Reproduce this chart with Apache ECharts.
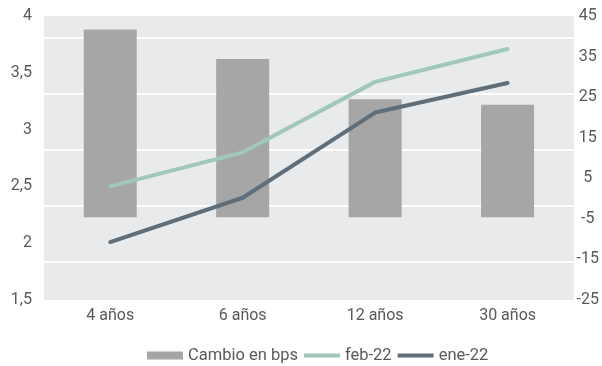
<!DOCTYPE html>
<html>
<head>
<meta charset="utf-8">
<script src="https://cdn.jsdelivr.net/npm/echarts@6/dist/echarts.min.js"></script>
<style>
  html, body { margin: 0; padding: 0; background: #fff; }
  #main { width: 602px; height: 366px; }
</style>
</head>
<body>
<div id="main"></div>
<script>
// datos
var categories = ["4 años", "6 años", "12 años", "30 años"];
var cambioBps = [46.3, 39.0, 29.1, 27.7];
var feb22 = [2.50, 2.80, 3.42, 3.71];
var ene22 = [2.01, 2.40, 3.15, 3.41];

// ejes
var leftMin = 1.5, leftMax = 4, leftStep = 0.5;
var rightMin = -25, rightMax = 45, rightStep = 10;

var myChart = echarts.init(document.getElementById("main"));
var txt = "#595959";
var font = "Roboto";
// icono de línea gruesa para la leyenda (4px dentro de una caja de 36x8)
var lineIcon = "path://M0,0L0.001,0ZM0,2H36V6H0ZM0,8L0.001,8Z";

var option = {
  animation: false,
  textStyle: { fontFamily: font },
  grid: {
    left: 44,
    right: 28,
    top: 16,
    bottom: 66,
    show: true,
    backgroundColor: "#E9EAEC",
    borderWidth: 0,
  },
  legend: {
    left: 142,
    top: 342,
    itemWidth: 36,
    itemHeight: 8,
    itemGap: 6,
    textStyle: { color: txt, fontSize: 16.5, fontFamily: font },
    data: [
      { name: "Cambio en bps", icon: "rect" },
      { name: "feb-22", icon: lineIcon },
      { name: "ene-22", icon: lineIcon },
    ],
  },
  xAxis: {
    type: "category",
    data: categories,
    axisLine: { show: false },
    axisTick: { show: false },
    axisLabel: { color: txt, fontSize: 16, margin: 8 },
  },
  yAxis: [
    {
      type: "value",
      position: "left",
      min: leftMin,
      max: leftMax,
      interval: leftStep,
      splitLine: { show: false },
      axisLine: { show: false },
      axisLabel: {
        color: txt,
        fontSize: 16,
        margin: 12,
        formatter: function (v) {
          return String(v).replace(".", ",");
        },
      },
    },
    {
      type: "value",
      position: "right",
      min: rightMin,
      max: rightMax,
      interval: rightStep,
      splitLine: { show: false },
      axisLine: { show: false },
      axisLabel: { color: txt, fontSize: 16, margin: 14, align: "center" },
    },
    {
      // eje oculto para las barras (base en -4,6 del eje derecho)
      type: "value",
      min: -20.4,
      max: 49.6,
      axisLine: { show: false },
      axisTick: { show: false },
      axisLabel: { show: false },
      splitLine: { show: false },
    },
    {
      // eje oculto solo para las líneas blancas de la cuadrícula
      type: "value",
      min: -0.679,
      max: 4.393,
      splitNumber: 5,
      axisLine: { show: false },
      axisTick: { show: false },
      axisLabel: { show: false },
      splitLine: {
        show: true,
        showMinLine: false,
        showMaxLine: false,
        lineStyle: { color: "#ffffff", width: 2 },
      },
    },
  ],
  series: [
    {
      name: "Cambio en bps",
      type: "bar",
      yAxisIndex: 2,
      barWidth: 53,
      itemStyle: { color: "#A6A6A6" },
      data: cambioBps,
    },
    {
      name: "feb-22",
      type: "line",
      yAxisIndex: 0,
      symbol: "none",
      lineStyle: { color: "#A0C8B8", width: 4, cap: "round" },
      itemStyle: { color: "#A0C8B8" },
      data: feb22,
    },
    {
      name: "ene-22",
      type: "line",
      yAxisIndex: 0,
      symbol: "none",
      lineStyle: { color: "#5F6E78", width: 4, cap: "round" },
      itemStyle: { color: "#5F6E78" },
      data: ene22,
    },
  ],
};
myChart.setOption(option);
</script>
</body>
</html>
